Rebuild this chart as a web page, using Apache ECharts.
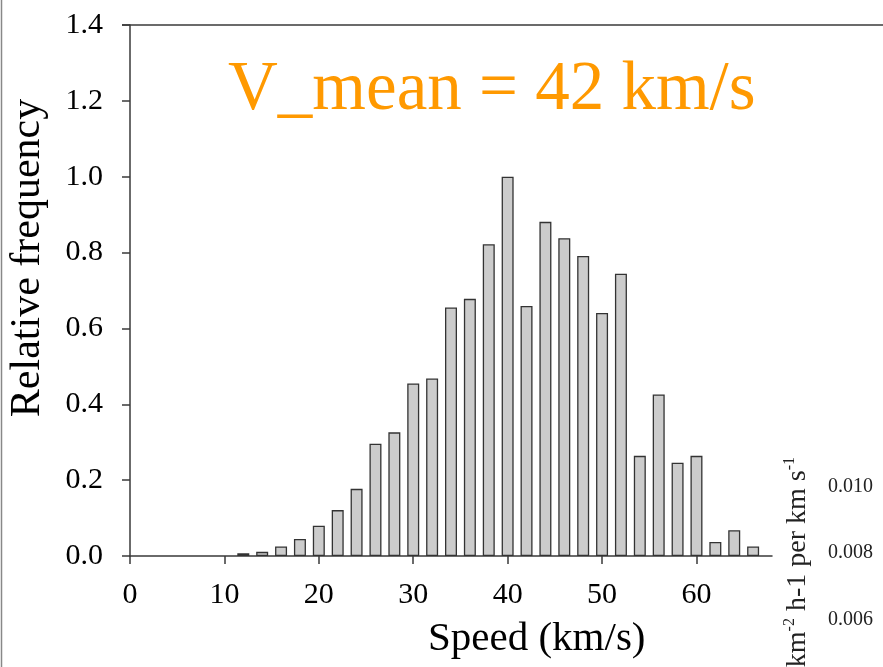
<!DOCTYPE html>
<html><head><meta charset="utf-8">
<script src="https://cdn.jsdelivr.net/npm/echarts@6/dist/echarts.min.js"></script>
<style>html,body{margin:0;padding:0;background:#fff}#c{width:883px;height:667px}</style>
</head><body><div id="c"></div>
<script>
const speeds = [12,14,16,18,20,22,24,26,28,30,32,34,36,38,40,42,44,46,48,50,52,54,56,58,60,62,64,66];
const freq = [0.007,0.011,0.025,0.045,0.080,0.121,0.177,0.296,0.326,0.455,0.468,0.655,0.678,0.822,1.000,0.659,0.881,0.838,0.791,0.641,0.744,0.264,0.426,0.246,0.264,0.037,0.068,0.025];
const xTicks = [0,10,20,30,40,50,60];
const yTicks = [0,0.2,0.4,0.6,0.8,1.0,1.2,1.4];
const rightLabels = ['0.010','0.008','0.006'];
const titleText = 'V_mean = 42 km/s';
const xName = 'Speed (km/s)';
const yName = 'Relative frequency';

const FONT = 'Liberation Serif';
const chart = echarts.init(document.getElementById('c'), null, {renderer:'canvas'});
const rightY = [487, 553, 620];
chart.setOption({
  animation: false,
  backgroundColor: '#fff',
  grid: {left: 130, top: 25, right: 111, bottom: 111, containLabel: false},
  xAxis: {
    type: 'value', min: 0, max: 68, interval: 10,
    axisLine: {show: true, lineStyle: {color: '#3a3a3a', width: 1.5}},
    axisTick: {show: true, length: 8, inside: false, customValues: xTicks, lineStyle: {color: '#3a3a3a', width: 1.5}},
    axisLabel: {customValues: xTicks, margin: 24, fontFamily: FONT, fontSize: 30, color: '#000'},
    splitLine: {show: false}
  },
  yAxis: {
    type: 'value', min: 0, max: 1.4, interval: 0.2,
    axisLine: {show: true, lineStyle: {color: '#3a3a3a', width: 1.5}},
    axisTick: {show: true, length: 8, inside: false, lineStyle: {color: '#3a3a3a', width: 1.5}},
    axisLabel: {margin: 27, fontFamily: FONT, fontSize: 30, color: '#000', formatter: v => v.toFixed(1)},
    splitLine: {show: false}
  },
  series: [{
    type: 'bar',
    data: speeds.map((s, i) => [s, freq[i]]),
    barWidth: 12,
    itemStyle: {color: '#cccccc', borderColor: '#333', borderWidth: 1.3}
  }],
  graphic: [
    {type: 'line', shape: {x1: 1.5, y1: 0, x2: 1.5, y2: 667}, style: {stroke: '#888', lineWidth: 1.5}, silent: true},
    {type: 'line', shape: {x1: 122, y1: 25, x2: 883, y2: 25}, style: {stroke: '#3a3a3a', lineWidth: 1.5}, silent: true},
    {type: 'text', x: 228, y: 91, style: {text: titleText, font: '69px "' + FONT + '"', fill: '#FF9900', align: 'left', verticalAlign: 'middle'}},
    {type: 'text', x: 428, y: 639, style: {text: xName, font: '41px "' + FONT + '"', fill: '#000', align: 'left', verticalAlign: 'middle'}},
    {type: 'text', x: 28, y: 258, rotation: Math.PI / 2, style: {text: yName, font: '42px "' + FONT + '"', fill: '#000', align: 'center', verticalAlign: 'middle'}},
    {type: 'text', x: 797, y: 457, rotation: Math.PI / 2, style: {
      text: '{a|km}{s|-2}{a| h-1 per km s}{s|-1}',
      align: 'right', verticalAlign: 'middle',
      rich: {a: {fontFamily: FONT, fontSize: 28, fill: '#222', lineHeight: 30, verticalAlign: 'bottom'},
             s: {fontFamily: FONT, fontSize: 16, fill: '#222', lineHeight: 30, verticalAlign: 'top'}}
    }},
    ...rightLabels.map((t, i) => ({type: 'text', x: 828, y: rightY[i], style: {text: t, font: '20px "' + FONT + '"', fill: '#222', align: 'left', verticalAlign: 'middle'}}))
  ]
});
</script>
</body></html>
